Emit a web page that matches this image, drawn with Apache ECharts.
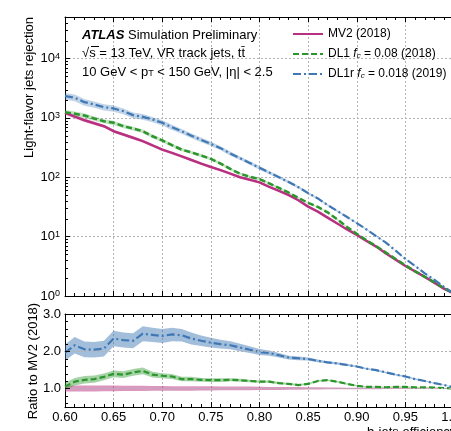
<!DOCTYPE html>
<html>
<head>
<meta charset="utf-8">
<script src="https://cdn.jsdelivr.net/npm/echarts@6.0.0/dist/echarts.min.js"></script>
<style>
  html, body { margin: 0; padding: 0; background: #fff; }
  #chart { width: 451px; height: 431px; }
</style>
</head>
<body>
<div id="chart"></div>
<script>
// b-jet efficiency points
var effs = [0.60,0.61,0.62,0.63,0.64,0.65,0.66,0.67,0.68,0.69,0.70,0.71,0.72,0.73,0.74,0.75,0.76,0.77,0.78,0.79,0.80,
            0.81,0.82,0.83,0.84,0.85,0.86,0.87,0.88,0.89,0.90,0.91,0.92,0.93,0.94,0.95,0.96,0.97,0.98,0.99,1.00];

var seriesNames = ['MV2 (2018)', 'DL1 (2018)', 'DL1r (2019)'];

// light-flavor rejection (top panel)
var mv2Rej  = [1219,1047,912,813,724,596,525,462,405,343,292,257,225,195,170,149,132,115,100,91,82,
               69,59,50,41,32,26.3,20.9,16.6,13.2,10.7,8.5,6.8,5.2,4.1,3.2,2.6,2.1,1.66,1.32,1.1];
var dl1Rej  = [1247,1175,1096,977,879,826,724,661,596,490,417,347,292,262,232,204,170,138,115,102,93,
               79,66,55,45,37,31.6,25.7,19.5,14.5,11.2,8.7,6.9,5.4,4.2,3.3,2.6,2.1,1.7,1.35,1.1];
var dl1rRej = [2328,2188,1841,1683,1514,1442,1297,1112,1042,940,826,697,596,501,427,366,309,251,209,174,144,
               120,100,83,68,54,44,34,27,21.4,16.9,13.2,10.2,7.9,5.8,4.2,3.2,2.4,1.86,1.41,1.1];
// relative uncertainty bands (top panel)
var mv2RejErr  = [0.07,0.07,0.07,0.07,0.06,0.06,0.06,0.06,0.06,0.05,0.05,0.05,0.05,0.05,0.05,0.04,0.04,0.04,0.04,0.04,0.04,
                  0.03,0.03,0.03,0.03,0.03,0.03,0.03,0.02,0.02,0.02,0.02,0.02,0.02,0.02,0.02,0.02,0.02,0.02,0.02,0.02];
var dl1RejErr  = [0.09,0.09,0.09,0.08,0.08,0.08,0.08,0.07,0.07,0.07,0.07,0.06,0.06,0.06,0.06,0.05,0.05,0.05,0.05,0.04,0.04,
                  0.04,0.04,0.04,0.03,0.03,0.03,0.03,0.03,0.03,0.02,0.02,0.02,0.02,0.02,0.02,0.02,0.02,0.02,0.02,0.02];
var dl1rRejErr = [0.13,0.13,0.13,0.12,0.12,0.12,0.11,0.11,0.11,0.10,0.10,0.10,0.09,0.09,0.09,0.08,0.08,0.08,0.07,0.07,0.07,
                  0.06,0.06,0.05,0.05,0.05,0.04,0.04,0.04,0.03,0.03,0.03,0.03,0.02,0.02,0.02,0.02,0.02,0.02,0.02,0.02];

// ratio to MV2 (bottom panel)
var mv2Ratio  = [1,1,1,1,1,1,1,1,1,1,1,1,1,1,1,1,1,1,1,1,1,1,1,1,1,1,1,1,1,1,1,1,1,1,1,1,1,1,1,1,1];
var dl1Ratio  = [1.05,1.18,1.23,1.25,1.31,1.39,1.37,1.43,1.47,1.37,1.34,1.32,1.25,1.25,1.23,1.22,1.22,1.23,1.22,1.20,1.18,
                 1.18,1.14,1.12,1.09,1.12,1.20,1.22,1.18,1.12,1.07,1.04,1.04,1.03,1.04,1.04,1.03,1.03,1.02,1.01,1.00];
var dl1rRatio = [1.96,2.16,2.05,2.04,2.07,2.34,2.30,2.28,2.47,2.44,2.41,2.45,2.43,2.34,2.28,2.23,2.19,2.16,2.10,2.04,1.98,
                 1.95,1.89,1.83,1.81,1.79,1.74,1.70,1.67,1.63,1.59,1.53,1.49,1.43,1.37,1.32,1.25,1.20,1.14,1.09,1.03];
var mv2RatioErr  = [0.08,0.08,0.08,0.08,0.075,0.075,0.07,0.07,0.07,0.065,0.065,0.06,0.06,0.06,0.055,0.055,0.05,0.05,0.05,0.05,0.045,
                    0.04,0.04,0.035,0.035,0.03,0.03,0.025,0.025,0.02,0.02,0.02,0.02,0.015,0.015,0.015,0.015,0.01,0.01,0.01,0.01];
var dl1RatioErr  = [0.10,0.10,0.10,0.10,0.09,0.09,0.09,0.09,0.09,0.08,0.07,0.07,0.06,0.06,0.05,0.05,0.05,0.04,0.04,0.035,0.03,
                    0.03,0.03,0.025,0.025,0.025,0.02,0.02,0.02,0.02,0.02,0.015,0.015,0.015,0.015,0.015,0.01,0.01,0.01,0.01,0.01];
var dl1rRatioErr = [0.22,0.22,0.21,0.21,0.21,0.21,0.20,0.20,0.20,0.19,0.19,0.18,0.17,0.16,0.14,0.13,0.12,0.11,0.10,0.09,0.08,
                    0.07,0.06,0.05,0.05,0.04,0.04,0.03,0.03,0.03,0.02,0.02,0.02,0.02,0.02,0.02,0.02,0.015,0.015,0.01,0.01];

var ratioTickLabels = ['1.0', '2.0', '3.0'];

var FONT = 'Liberation Sans, Arial, sans-serif';
var C_MV2 = '#b8307f', C_DL1 = '#2b962b', C_DL1R = '#3f78b4';
var GRIDC = '#b3b3b3';

function pairs(xs, ys) {
    var out = [];
    for (var i = 0; i < xs.length; i++) out.push([xs[i], ys[i]]);
    return out;
}

// filled band between lo and hi, drawn as one polygon through the axes
function band(id, xi, yi, lo, hi, color) {
    return {
        name: id, type: 'custom', xAxisIndex: xi, yAxisIndex: yi, silent: true, clip: true,
        data: [0],
        renderItem: function (params, api) {
            var pts = [], i;
            for (i = 0; i < effs.length; i++) pts.push(api.coord([effs[i], hi[i]]));
            for (i = effs.length - 1; i >= 0; i--) pts.push(api.coord([effs[i], lo[i]]));
            return {type: 'polygon', shape: {points: pts}, style: {fill: color}};
        }
    };
}
function relBand(id, vals, errs, color) {
    var lo = [], hi = [];
    for (var i = 0; i < vals.length; i++) { lo.push(vals[i] * (1 - errs[i])); hi.push(vals[i] * (1 + errs[i])); }
    return band(id, 0, 0, lo, hi, color);
}
function absBand(id, vals, errs, color) {
    var lo = [], hi = [];
    for (var i = 0; i < vals.length; i++) { lo.push(vals[i] - errs[i]); hi.push(vals[i] + errs[i]); }
    return band(id, 2, 1, lo, hi, color);
}

var chart = echarts.init(document.getElementById('chart'), null, {renderer: 'canvas'});

var dotted = {color: GRIDC, width: 1, type: [2, 2]};
function xAxisCfg(grid, pos, labels, split) {
    return {
        type: 'value', gridIndex: grid, position: pos, min: 0.6, max: 1.0, interval: 0.05,
        axisLine: {show: true, onZero: false, lineStyle: {color: '#000', width: 1}},
        axisTick: {show: true, inside: true, length: 5, lineStyle: {color: '#000'}},
        minorTick: {show: true, splitNumber: 5, length: 3, lineStyle: {color: '#000'}},
        splitLine: {show: split, lineStyle: dotted},
        axisLabel: {show: labels, margin: 4, color: '#000', fontSize: 13, fontFamily: FONT,
                    formatter: function (v) { return v.toFixed(2); }}
    };
}

var series = [
    relBand('mv2b', mv2Rej, mv2RejErr, 'rgba(184,48,127,0.28)'),
    relBand('dl1b', dl1Rej, dl1RejErr, 'rgba(43,150,43,0.28)'),
    relBand('dl1rb', dl1rRej, dl1rRejErr, 'rgba(63,120,180,0.32)'),
    {name: seriesNames[0], type: 'line', xAxisIndex: 0, yAxisIndex: 0, symbol: 'none', color: C_MV2,
     lineStyle: {color: C_MV2, width: 2.5}, data: pairs(effs, mv2Rej)},
    {name: seriesNames[1], type: 'line', xAxisIndex: 0, yAxisIndex: 0, symbol: 'none', color: C_DL1,
     lineStyle: {color: C_DL1, width: 2.5, type: [6, 3]}, data: pairs(effs, dl1Rej)},
    {name: seriesNames[2], type: 'line', xAxisIndex: 0, yAxisIndex: 0, symbol: 'none', color: C_DL1R,
     lineStyle: {color: C_DL1R, width: 2.2, type: [8, 3, 2, 3]}, data: pairs(effs, dl1rRej)},
    absBand('mv2r', mv2Ratio, mv2RatioErr, 'rgba(184,48,127,0.5)'),
    absBand('dl1r', dl1Ratio, dl1RatioErr, 'rgba(43,150,43,0.42)'),
    absBand('dl1rr', dl1rRatio, dl1rRatioErr, 'rgba(63,120,180,0.48)'),
    {name: 'DL1 ratio', type: 'line', xAxisIndex: 2, yAxisIndex: 1, symbol: 'none',
     lineStyle: {color: C_DL1, width: 2.2, type: [6, 3]}, data: pairs(effs, dl1Ratio),
     markLine: {silent: true, symbol: 'none', label: {show: false}, lineStyle: dotted,
                data: [{yAxis: 1}, {yAxis: 2}]}},
    {name: 'DL1r ratio', type: 'line', xAxisIndex: 2, yAxisIndex: 1, symbol: 'none',
     lineStyle: {color: C_DL1R, width: 2.2, type: [8, 3, 2, 3]}, data: pairs(effs, dl1rRatio)}
];

var legendText = {};
legendText[seriesNames[0]] = '{t|MV2 (2018)}';
legendText[seriesNames[1]] = '{t|DL1 }{i|f}{s|c}{t| = 0.08 (2018)}';
legendText[seriesNames[2]] = '{t|DL1r }{i|f}{s|c}{t| = 0.018 (2019)}';

chart.setOption({
    animation: false,
    backgroundColor: '#fff',
    grid: [
        {left: 65, right: -3, top: 17, bottom: 135, outerBoundsMode: 'none', containLabel: false},
        {left: 65, right: -3, top: 314, bottom: 24, outerBoundsMode: 'none', containLabel: false}
    ],
    xAxis: [
        xAxisCfg(0, 'bottom', false, true),
        xAxisCfg(0, 'top', false, false),
        xAxisCfg(1, 'bottom', true, true),
        xAxisCfg(1, 'top', false, false)
    ],
    yAxis: [
        {type: 'log', logBase: 10, gridIndex: 0, min: 1, max: 50000,
         axisLine: {show: true, onZero: false, lineStyle: {color: '#000', width: 1}},
         axisTick: {show: true, inside: true, length: 5, lineStyle: {color: '#000'}},
         splitLine: {show: true, lineStyle: dotted},
         axisLabel: {margin: 5, showMaxLabel: false, color: '#000',
             formatter: function (v) {
                 var l = Math.log10(v), e = Math.round(l);
                 if (Math.abs(l - e) > 1e-6) return '';
                 return '{b|10}{e|' + e + '}';
             },
             rich: {
                 b: {fontSize: 13, fontFamily: FONT, color: '#000'},
                 e: {fontSize: 9, fontFamily: FONT, color: '#000', verticalAlign: 'top', lineHeight: 9, padding: [0, 0, 6, 0]}
             }}},
        {type: 'value', gridIndex: 1, min: 0.5, max: 3.0, interval: 0.1,
         axisLine: {show: true, onZero: false, lineStyle: {color: '#000', width: 1}},
         axisTick: {show: false},
         splitLine: {show: false},
         axisLabel: {margin: 4, color: '#000', fontSize: 13, fontFamily: FONT,
             formatter: function (v) {
                 var s = v.toFixed(1);
                 return ratioTickLabels.indexOf(s) >= 0 ? s : '';
             }}}
    ],
    legend: {
        data: seriesNames, orient: 'vertical', left: 287, top: 23,
        itemWidth: 30, itemHeight: 12, itemGap: 6,
        itemStyle: {color: 'rgba(0,0,0,0)', borderColor: 'rgba(0,0,0,0)', borderWidth: 0, opacity: 0},
        formatter: function (name) { return legendText[name]; },
        textStyle: {fontFamily: FONT, fontSize: 12, color: '#000',
            rich: {
                t: {fontFamily: FONT, fontSize: 12, color: '#000'},
                i: {fontFamily: FONT, fontSize: 12, color: '#000', fontStyle: 'italic'},
                s: {fontFamily: FONT, fontSize: 8, color: '#000', fontStyle: 'italic', verticalAlign: 'bottom', lineHeight: 8, padding: [6, 0, 0, 0]}
            }}
    },
    series: series
});

// ticks that the log / ratio axes cannot draw themselves, plus the texts
var g = [];
var x0 = Math.round(chart.convertToPixel({xAxisIndex: 0}, 0.6));
function tick(y, len) {
    var yy = Math.round(y) + 0.5;
    g.push({type: 'line', silent: true, z: 10, shape: {x1: x0, y1: yy, x2: x0 + len, y2: yy},
            style: {stroke: '#000', lineWidth: 1}});
}
for (var n = 0; n < 5; n++) {
    for (var k = 2; k <= 9; k++) {
        var v = k * Math.pow(10, n);
        if (v < 50000) tick(chart.convertToPixel({yAxisIndex: 0}, v), 3);
    }
}
for (var t = 6; t <= 30; t += 2) {
    var rv = t / 10;
    tick(chart.convertToPixel({yAxisIndex: 1}, rv), (t % 10 === 0) ? 5 : 3);
}

function txt(x, y, text, rich, extra) {
    var el = {type: 'text', x: x, y: y, silent: true, z: 20,
              style: {text: text, rich: rich, fontFamily: FONT, fontSize: 13, fill: '#000',
                      align: 'left', verticalAlign: 'middle'}};
    if (extra) for (var key in extra) el[key] = extra[key];
    return el;
}
var base = {fontFamily: FONT, fontSize: 13, fill: '#000'};
g.push(txt(82, 35, '{a|ATLAS}{n| Simulation Preliminary}', {
    a: {fontFamily: FONT, fontSize: 13, fontWeight: 'bold', fontStyle: 'italic', fill: '#000'},
    n: base
}));
g.push(txt(82, 53, '{n|\u221As = 13 TeV, VR track jets, t}{n|t\u0304}', {n: base}));
g.push({type: 'line', silent: true, z: 20, shape: {x1: 91, y1: 46.5, x2: 99, y2: 46.5}, style: {stroke: '#000', lineWidth: 1}});
g.push(txt(82, 72, '{n|10 GeV < p}{s|T}{n| < 150 GeV, |\u03b7| < 2.5}', {
    n: base,
    s: {fontFamily: FONT, fontSize: 9, fill: '#000', verticalAlign: 'bottom', lineHeight: 9, padding: [7, 0, 0, 0]}
}));
var yTitleEl = txt(29, 17, 'Light-flavor jets rejection', null, {rotation: Math.PI / 2});
yTitleEl.style.align = 'right';
g.push(yTitleEl);
var rTitleEl = txt(33, 361, 'Ratio to MV2 (2018)', null, {rotation: Math.PI / 2});
rTitleEl.style.align = 'center';
g.push(rTitleEl);
var xTitleEl = txt(367, 426, 'b-jets efficiency', null);
xTitleEl.style.verticalAlign = 'top';
g.push(xTitleEl);

chart.setOption({graphic: g});

window.addEventListener('resize', function () { chart.resize(); });
</script>
</body>
</html>
